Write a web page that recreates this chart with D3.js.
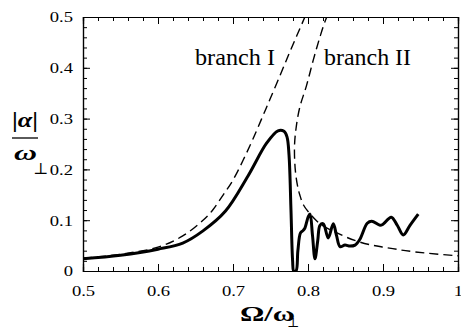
<html><head>
  <script src="https://d3js.org/d3.v7.min.js"></script>
  <style>
    body { margin: 0; background: #fff; }
    text { font-family: "Liberation Serif", "Tinos", "DejaVu Serif", "Times New Roman", Times, serif !important; fill: #000; }
  </style>
</head>
<body>
  <script>
    // solid curve: |alpha|/omega_perp vs Omega/omega_perp
    const solidOmega = [0.50, 0.55, 0.60, 0.633, 0.66, 0.69, 0.72, 0.745, 0.76, 0.768, 0.772, 0.7747, 0.7773, 0.7795,
      0.781, 0.784, 0.7865, 0.79, 0.7937, 0.796, 0.8004, 0.8027, 0.806, 0.8093, 0.813, 0.816, 0.8204, 0.827,
      0.8337, 0.838, 0.8427, 0.8493, 0.856, 0.8627, 0.869, 0.879, 0.885, 0.896, 0.90, 0.911, 0.919, 0.927, 0.936, 0.947]
    const solidAlpha = [0.024, 0.031, 0.043, 0.055, 0.079, 0.118, 0.187, 0.252, 0.276, 0.275, 0.264, 0.228, 0.12, 0.02,
      0.0, 0.0, 0.04, 0.075, 0.08, 0.085, 0.107, 0.112, 0.07, 0.024, 0.06, 0.09, 0.093, 0.065,
      0.093, 0.07, 0.048, 0.051, 0.049, 0.051, 0.062, 0.094, 0.098, 0.09, 0.092, 0.106, 0.09, 0.071, 0.09, 0.112]

    // dashed: branch I
    const branch1Omega = [0.50, 0.55, 0.60, 0.633, 0.66, 0.673, 0.687, 0.70, 0.723, 0.738, 0.749, 0.763, 0.774, 0.785, 0.797, 0.81]
    const branch1Alpha = [0.025, 0.033, 0.047, 0.069, 0.1, 0.12, 0.15, 0.179, 0.248, 0.299, 0.337, 0.386, 0.425, 0.463, 0.504, 0.55]

    // dashed: branch II (from the top down)
    const branch2Omega = [0.835, 0.825, 0.816, 0.807, 0.798, 0.789, 0.784, 0.782, 0.783, 0.786, 0.789, 0.794, 0.803,
      0.812, 0.82, 0.83, 0.84, 0.852, 0.869, 0.885, 0.90, 0.913, 0.93, 0.959, 1.0]
    const branch2Alpha = [0.53, 0.5, 0.461, 0.415, 0.365, 0.322, 0.28, 0.245, 0.2, 0.168, 0.15, 0.13, 0.112,
      0.098, 0.089, 0.081, 0.074, 0.066, 0.057, 0.051, 0.047, 0.044, 0.04, 0.035, 0.03]

    const xTicks = [0.5, 0.6, 0.7, 0.8, 0.9, 1.0]
    const xTickLabels = ["0.5", "0.6", "0.7", "0.8", "0.9", "1"]
    const yTicks = [0, 0.1, 0.2, 0.3, 0.4, 0.5]
    const yTickLabels = ["0", "0.1", "0.2", "0.3", "0.4", "0.5"]
    const xMinor = d3.range(0.5, 1.0001, 0.02)
    const yMinor = d3.range(0, 0.5001, 0.02)

    const width = 461, height = 329
    const mLeft = 83, mRight = 458, mTop = 17, mBottom = 271

    const svg = d3.select("body").append("svg")
                  .attr("width", width)
                  .attr("height", height)

    const x = d3.scaleLinear().domain([0.5, 1]).range([mLeft, mRight])
    const y = d3.scaleLinear().domain([0, 0.5]).range([mBottom, mTop])

    // clip to the plot box
    svg.append("clipPath").attr("id", "clip")
       .append("rect")
       .attr("x", mLeft).attr("y", mTop)
       .attr("width", mRight - mLeft).attr("height", mBottom - mTop)

    const line = d3.line()
                   .x(d => x(d[0]))
                   .y(d => y(d[1]))
                   .curve(d3.curveCatmullRom.alpha(0.5))

    const plot = svg.append("g").attr("clip-path", "url(#clip)")

    plot.append("path")
        .datum(d3.zip(branch1Omega, branch1Alpha))
        .attr("d", line)
        .attr("fill", "none")
        .attr("stroke", "#000")
        .attr("stroke-width", 1.4)
        .attr("stroke-dasharray", "9,5")

    plot.append("path")
        .datum(d3.zip(branch2Omega, branch2Alpha))
        .attr("d", line)
        .attr("fill", "none")
        .attr("stroke", "#000")
        .attr("stroke-width", 1.4)
        .attr("stroke-dasharray", "9,5")

    plot.append("path")
        .datum(d3.zip(solidOmega, solidAlpha))
        .attr("d", line)
        .attr("fill", "none")
        .attr("stroke", "#000")
        .attr("stroke-width", 3)
        .attr("stroke-linejoin", "round")

    // axes, ticks pointing inward on all four sides
    const stretch = function(sel, k) {
      sel.each(function() {
        const w = this.getComputedTextLength()
        d3.select(this).attr("textLength", w * k).attr("lengthAdjust", "spacingAndGlyphs")
      })
    }

    const styleAxis = g => {
      g.attr("font-family", null)
      g.select(".domain").attr("stroke", "#000").attr("stroke-width", 1.2)
      g.selectAll("line").attr("stroke", "#000")
    }

    // minor ticks first
    svg.append("g").attr("transform", `translate(0,${mBottom})`)
       .call(d3.axisBottom(x).tickValues(xMinor).tickSize(-4).tickFormat(""))
       .call(styleAxis)
    svg.append("g").attr("transform", `translate(0,${mTop})`)
       .call(d3.axisTop(x).tickValues(xMinor).tickSize(-4).tickFormat(""))
       .call(styleAxis)
    svg.append("g").attr("transform", `translate(${mLeft},0)`)
       .call(d3.axisLeft(y).tickValues(yMinor).tickSize(-4).tickFormat(""))
       .call(styleAxis)
    svg.append("g").attr("transform", `translate(${mRight},0)`)
       .call(d3.axisRight(y).tickValues(yMinor).tickSize(-4).tickFormat(""))
       .call(styleAxis)

    // major ticks + labels
    const xAxis = svg.append("g").attr("transform", `translate(0,${mBottom})`)
       .call(d3.axisBottom(x).tickValues(xTicks).tickSize(-7).tickPadding(14)
               .tickFormat((d, i) => xTickLabels[i]))
       .call(styleAxis)
    xAxis.selectAll("text").attr("font-size", 15).call(stretch, 1.24)

    const yAxis = svg.append("g").attr("transform", `translate(${mLeft},0)`)
       .call(d3.axisLeft(y).tickValues(yTicks).tickSize(-7).tickPadding(10)
               .tickFormat((d, i) => yTickLabels[i]))
       .call(styleAxis)
    yAxis.selectAll("text").attr("font-size", 15).call(stretch, 1.24)

    svg.append("g").attr("transform", `translate(0,${mTop})`)
       .call(d3.axisTop(x).tickValues(xTicks).tickSize(-7).tickFormat(""))
       .call(styleAxis)
    svg.append("g").attr("transform", `translate(${mRight},0)`)
       .call(d3.axisRight(y).tickValues(yTicks).tickSize(-7).tickFormat(""))
       .call(styleAxis)

    // branch labels
    svg.append("text").attr("x", 195).attr("y", 65)
       .attr("font-size", 24).text("branch I")
       .attr("textLength", 80).attr("lengthAdjust", "spacingAndGlyphs")
    svg.append("text").attr("x", 324).attr("y", 65)
       .attr("font-size", 24).text("branch II")
       .attr("textLength", 87).attr("lengthAdjust", "spacingAndGlyphs")

    // x title: Omega / omega_perp
    svg.append("text").attr("x", 240).attr("y", 321)
       .attr("font-size", 22).attr("font-weight", "bold")
       .text("Ω/ω")
       .attr("textLength", 55).attr("lengthAdjust", "spacingAndGlyphs")
    svg.append("text").attr("x", 293).attr("y", 327)
       .attr("font-size", 13).attr("text-anchor", "middle")
       .text("⊥")

    // y title: |alpha| over omega_perp
    const yt = svg.append("text").attr("x", 12).attr("y", 127)
       .attr("font-size", 22).attr("font-weight", "bold")
       .attr("textLength", 26).attr("lengthAdjust", "spacingAndGlyphs")
    yt.append("tspan").text("|")
    yt.append("tspan").attr("font-style", "italic").text("α")
    yt.append("tspan").text("|")
    svg.append("line")
       .attr("x1", 12).attr("x2", 38)
       .attr("y1", 138).attr("y2", 138)
       .attr("stroke", "#000").attr("stroke-width", 1.3)
    svg.append("text").attr("x", 14).attr("y", 160)
       .attr("font-size", 22).attr("font-weight", "bold").attr("font-style", "italic")
       .attr("textLength", 23).attr("lengthAdjust", "spacingAndGlyphs")
       .text("ω")
    svg.append("text").attr("x", 33).attr("y", 174)
       .attr("font-size", 16)
       .text("⊥")
  </script>
</body></html>
